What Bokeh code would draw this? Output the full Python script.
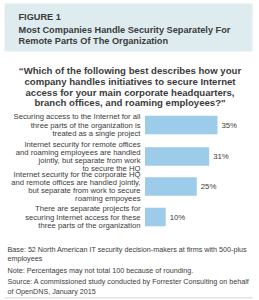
from bokeh.plotting import figure
from bokeh.models import Range1d, ColumnDataSource
from bokeh.core.properties import value
from bokeh.embed import file_html
from bokeh.resources import INLINE

categories = [
    "Securing access to the Internet for all\nthree parts of the organization is\ntreated as a single project",
    "Internet security for remote offices\nand roaming employees are handled\njointly, but separate from work\nto secure the HQ",
    "Internet security for the corporate HQ\nand remote offices are handled jointly,\nbut separate from work to secure\nroaming empoyees",
    "There are separate projects for\nsecuring Internet access for these\nthree parts of the organization",
]
values = [35, 31, 25, 10]
value_labels = ["35%", "31%", "25%", "10%"]

fig_label = "FIGURE 1"
title_lines = ["Most Companies Handle Security Separately For",
               "Remote Parts Of The Organization"]
question_lines = ["\u201cWhich of the following best describes how your",
                  "company handles initiatives to secure Internet",
                  "access for your main corporate headquarters,",
                  "branch offices, and roaming employees?\""]
footer_lines = ["Base: 52 North American IT security decision-makers at firms with 500-plus",
                "employees",
                "Note: Percentages may not total 100 because of rounding.",
                "Source: A commissioned study conducted by Forrester Consulting on behalf",
                "of OpenDNS, January 2015"]

W, H = 259, 300
X0 = 144.5          # pixel of 0%
K = 2.07            # pixels per percent


def X(px):
    return (px - X0) / K


p = figure(width=W, height=H, output_backend="svg", toolbar_location=None,
           x_range=Range1d(X(0), X(W)), y_range=Range1d(H, 0),
           min_border=0, outline_line_color=None)
p.axis.visible = False
p.grid.visible = False
p.background_fill_color = "white"
p.border_fill_color = "white"

FONT = value("Liberation Sans")
TXT = "#3b3b3b"

# header box
p.quad(left=[X(4)], right=[X(252)], top=[3], bottom=[51],
       fill_color="#deecef", line_color=None)
p.text(x=[X(18)], y=[16], text=[fig_label], text_font=FONT,
       text_font_size="9.2px", text_font_style="bold", text_color=TXT,
       text_baseline="middle")
p.text(x=[X(18)] * 2, y=[29, 40.5], text=title_lines, text_font=FONT,
       text_font_size="9.2px", text_font_style="bold", text_color=TXT,
       text_baseline="middle")

# question
p.text(x=[X(129.5)] * 4, y=[70, 81, 91.5, 102], text=question_lines,
       text_font=FONT, text_font_size="9.6px", text_font_style="bold",
       text_color=TXT, text_align="center", text_baseline="middle")

# bars
centers = [124.5, 156, 186, 216.5]
src = ColumnDataSource(dict(y=centers, v=values, lab=value_labels))
p.hbar(y="y", left=0, right="v", height=18.5, source=src,
       fill_color="#9dcbea", line_color=None)
p.text(x="v", y="y", text="lab", source=src, x_offset=4,
       text_font=FONT, text_font_size="7.8px", text_color=TXT,
       text_baseline="middle")

# category labels, one row per text line
LH = 8.2
ly, lt, loff = [], [], []
for c, cat in zip(centers, categories):
    parts = cat.split("\n")
    n = len(parts)
    for i, t in enumerate(parts):
        ly.append(c)
        lt.append(t)
        loff.append((i - (n - 1) / 2) * LH)
lsrc = ColumnDataSource(dict(x=[X(140)] * len(ly), y=ly, t=lt, off=loff))
p.text(x="x", y="y", text="t", y_offset="off", source=lsrc, text_font=FONT,
       text_font_size="7.7px", text_color=TXT, text_align="right",
       text_baseline="middle")

# footer
p.text(x=[X(7)] * 5, y=[248.5, 258, 269.5, 280.5, 290.5], text=footer_lines,
       text_font=FONT, text_font_size="7.2px", text_color=TXT,
       text_baseline="middle")
p.quad(left=[X(4)], right=[X(252)], top=[296.5], bottom=[298],
       fill_color="#e2e2e2", line_color=None)

open("out.html", "w").write(file_html(p, INLINE))
